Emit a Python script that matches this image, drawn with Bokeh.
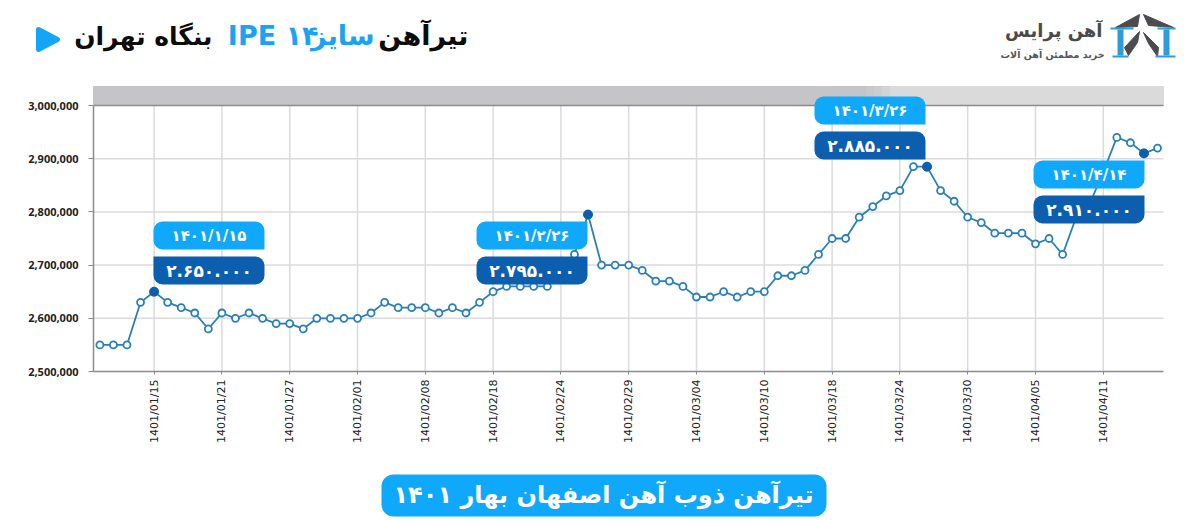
from math import pi

from bokeh.embed import file_html
from bokeh.models import BoxAnnotation, FixedTicker, Label, NumeralTickFormatter
from bokeh.plotting import figure
from bokeh.resources import INLINE

values = [2550000, 2550000, 2550000, 2630000, 2650000, 2630000, 2620000, 2610000, 2580000, 2610000,
          2600000, 2610000, 2600000, 2590000, 2590000, 2580000, 2600000, 2600000, 2600000, 2600000,
          2610000, 2630000, 2620000, 2620000, 2620000, 2610000, 2620000, 2610000, 2630000, 2650000,
          2660000, 2660000, 2660000, 2660000, 2690000, 2720000, 2795000, 2700000, 2700000, 2700000,
          2690000, 2670000, 2670000, 2660000, 2640000, 2640000, 2650000, 2640000, 2650000, 2650000,
          2680000, 2680000, 2690000, 2720000, 2750000, 2750000, 2790000, 2810000, 2830000, 2840000,
          2885000, 2885000, 2840000, 2820000, 2790000, 2780000, 2760000, 2760000, 2760000, 2740000,
          2750000, 2720000, 2790000, 2815000, 2875000, 2940000, 2930000, 2910000, 2920000]
tick_index = [4, 9, 14, 19, 24, 29, 34, 39, 44, 49, 54, 59, 64, 69, 74]
tick_labels = ["1401/01/15", "1401/01/21", "1401/01/27", "1401/02/01", "1401/02/08",
               "1401/02/18", "1401/02/24", "1401/02/29", "1401/03/04", "1401/03/10",
               "1401/03/18", "1401/03/24", "1401/03/30", "1401/04/05", "1401/04/11"]
y_ticks = [2500000, 2600000, 2700000, 2800000, 2900000, 3000000]
callout_index = [4, 36, 61, 77]
callout_dates = ["۱۴۰۱/۱/۱۵", "۱۴۰۱/۲/۲۶", "۱۴۰۱/۳/۲۶", "۱۴۰۱/۴/۱۴"]
callout_prices = ["۲.۶۵۰.۰۰۰", "۲.۷۹۵.۰۰۰", "۲.۸۸۵.۰۰۰", "۲.۹۱۰.۰۰۰"]

LIGHT = "#0fa8fb"
DARK = "#0b5fae"
LINE = "#2b7fb8"
GRID = "#dcdade"
AXIS = "#8c8c8c"
FONT = "DejaVu Sans"

# the chart area runs from x=93 to 1163 and y=105 to 371 in the page
X_START, X_END = -0.47, 78.44
Y_BOTTOM, Y_MAX = 2500000, 3000000
Y_PER_PX = 500000 / 266


def data_x(px):
    return X_START + (px - 93) * (X_END - X_START) / 1070


def data_y(px):
    return Y_BOTTOM + (371 - px) * Y_PER_PX


def text(x, y, s, size, color, align="center", style="bold"):
    p.add_layout(Label(x=data_x(x), y=data_y(y), text=s, text_font=FONT, text_font_size=size,
                       text_color=color, text_font_style=style, text_align=align, text_baseline="middle"))


def box(left, right, top, bottom, color, radius=0):
    p.add_layout(BoxAnnotation(left=data_x(left), right=data_x(right), top=data_y(top), bottom=data_y(bottom),
                               fill_color=color, fill_alpha=1, line_color=None, border_radius=radius))


def poly(xs, ys, color, **kw):
    p.patch([data_x(v) for v in xs], [data_y(v) for v in ys], color=color, **kw)


# the frame fills the whole canvas, so header and footer can sit inside it
p = figure(width=1200, height=520, frame_width=1200, frame_height=520,
           x_range=(data_x(0), data_x(1200)), y_range=(data_y(520), data_y(0)),
           toolbar_location=None, tools="", min_border=0, outline_line_color=None,
           output_backend="svg")
p.grid.visible = False

p.xaxis.fixed_location = Y_BOTTOM
p.yaxis.fixed_location = X_START
p.xaxis.bounds = (X_START, X_END)
p.yaxis.bounds = (Y_BOTTOM, Y_MAX)
p.xaxis.ticker = FixedTicker(ticks=tick_index)
p.xaxis.major_label_overrides = dict(zip(tick_index, tick_labels))
p.xaxis.major_label_orientation = pi / 2
p.yaxis.ticker = FixedTicker(ticks=y_ticks)
p.yaxis.formatter = NumeralTickFormatter(format="0,0")
for axis in [p.xaxis[0], p.yaxis[0]]:
    axis.axis_line_color = AXIS
    axis.axis_line_width = 1.5
    axis.major_tick_line_color = AXIS
    axis.major_tick_in = 0
    axis.minor_tick_line_color = None
    axis.major_label_text_color = "#222222"
p.xaxis.major_tick_out = 3
p.xaxis.major_label_text_font = FONT
p.xaxis.major_label_text_font_size = "11px"
p.yaxis.major_tick_out = 5
p.yaxis.major_label_standoff = 10
p.yaxis.major_label_text_font = "Open Sans"
p.yaxis.major_label_text_font_size = "11px"
p.yaxis.major_label_text_font_style = "bold"

p.segment(x0=tick_index, x1=tick_index, y0=Y_BOTTOM, y1=Y_MAX, line_color=GRID, line_width=1.5, level="underlay")
p.segment(x0=X_START, x1=X_END, y0=y_ticks[1:-1], y1=y_ticks[1:-1], line_color=GRID, line_width=1.5, level="underlay")

# grey band above 3,000,000, fading towards the right
for left, right, color in [(93, 866, "#c5c4c6"), (866, 874, "#c9c8ca"), (874, 882, "#cecdce"),
                           (882, 890, "#d4d3d4"), (890, 1163, "#dbdada")]:
    p.quad(left=data_x(left), right=data_x(right), top=data_y(86), bottom=Y_MAX, color=color, level="underlay")
p.segment(x0=X_START, x1=X_END, y0=Y_MAX, y1=Y_MAX, line_color=AXIS, line_width=1.5)

x = list(range(len(values)))
p.line(x, values, line_color=LINE, line_width=1.8)
p.scatter(x, values, size=7, fill_color="white", line_color=LINE, line_width=1.8)
p.scatter(callout_index, [values[i] for i in callout_index], size=9, fill_color=DARK, line_color=DARK)

# callouts, left edge and top edge in page pixels
callout_left = [153, 476, 814, 1033]
callout_top = [221, 221, 96, 160]
light_radius = [(9, 9, 0, 9), (9, 0, 9, 9), (9, 9, 0, 9), (9, 0, 9, 9)]
dark_radius = [(0, 9, 9, 9), (9, 0, 9, 9), (9, 9, 0, 9), (9, 0, 9, 9)]
for i in range(len(callout_index)):
    left, top = callout_left[i], callout_top[i]
    box(left, left + 111, top, top + 28, LIGHT, light_radius[i])
    text(left + 55.5, top + 14, callout_dates[i], "15px", "white")
    box(left, left + 111, top + 35, top + 63, DARK, dark_radius[i])
    text(left + 55.5, top + 49, callout_prices[i], "17px", "white")

# header
poly([38, 57, 38], [29, 39, 49], "#14a4f8", line_width=5, line_join="round")
text(468, 35, "تیرآهن", "27px", "#0c0c0c", "right")
text(374, 35, "سایز", "27px", "#1aa3f5", "right")
text(318, 35, "IPE ۱۴", "27px", "#1aa3f5", "right")
text(212, 36, "بنگاه تهران", "25px", "#0c0c0c", "right")
text(1102, 30, "آهن پرایس", "18px", "#4a4a4a", "right")
text(1104, 54, "خرید مطمئن آهن آلات", "9.5px", "#555555", "right")

# logo
for xs, ys in [([1115, 1139, 1137], [27, 14, 26]), ([1143, 1173, 1148], [14, 27, 25]),
               ([1124, 1139, 1137, 1128], [47, 31, 42, 55]), ([1143, 1158, 1157, 1148], [32, 47, 56, 43])]:
    poly(xs, ys, "#4b4b50")
for left, right, top, bottom in [(1110, 1133, 27, 29), (1117, 1123, 29, 55), (1112, 1128, 55, 57),
                                 (1157, 1175, 27, 29), (1163, 1169, 29, 55), (1155, 1175, 55, 57)]:
    box(left, right, top, bottom, "#2f9bd8")

# footer
box(381, 826, 474, 516, LIGHT, 12)
text(603, 494, "تیرآهن ذوب آهن اصفهان بهار ۱۴۰۱", "24px", "white")

open("out.html", "w").write(file_html(p, INLINE))
